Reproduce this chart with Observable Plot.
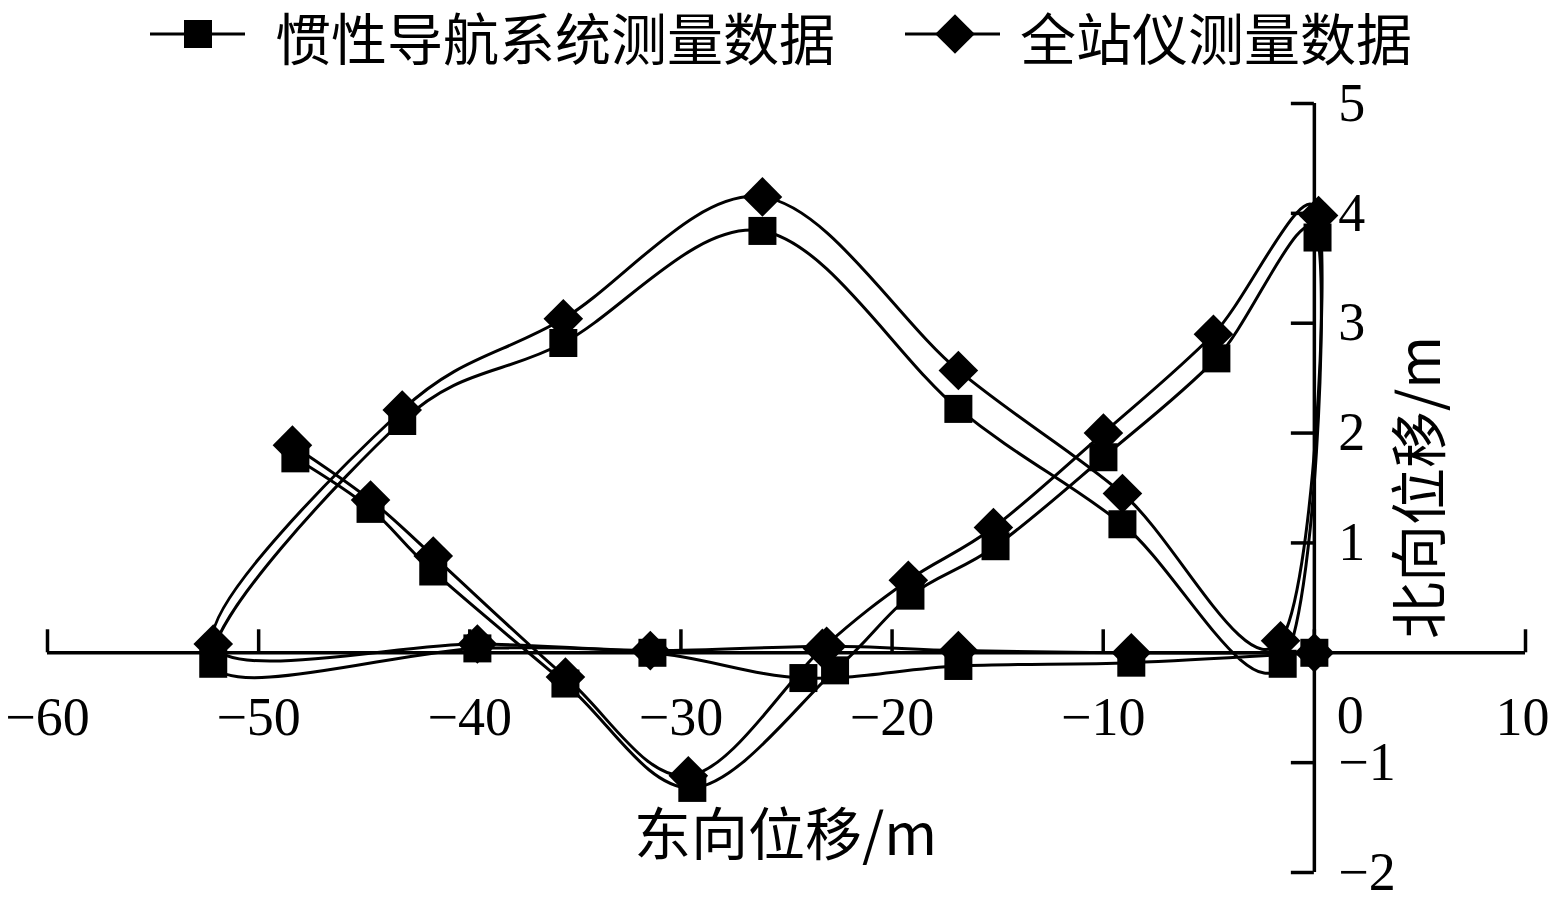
<!DOCTYPE html>
<html><head><meta charset="utf-8">
<script src="https://cdn.jsdelivr.net/npm/d3@7"></script>
<script src="https://cdn.jsdelivr.net/npm/@observablehq/plot@0.6"></script>
<style>
body{margin:0;background:#fff;}
#wrap{position:relative;width:1550px;height:907px;background:#fff;}
#legend{height:75px;width:1550px;}
#legend svg{overflow:visible;display:block;}
</style></head><body>
<div id="wrap"><div id="legend"></div><div id="chart"></div></div>
<script>
// ---- data ----
const seriesNames = ["惯性导航系统测量数据", "全站仪测量数据"];
// 惯性导航系统 (squares)
const insX = [0, -8.67, -16.86, -24.2, -31.35, -39.64, -52.15, -43.2, -35.57, -26.14, -16.86, -9.09, -1.5, 0.15, -4.64, -9.99, -15.1, -19.13, -22.7, -29.46, -35.47, -41.73, -44.7, -48.26];
const insY = [0, -0.09, -0.12, -0.23, 0.0, 0.04, -0.1, 2.11, 2.82, 3.84, 2.22, 1.17, -0.1, 3.78, 2.68, 1.78, 0.97, 0.52, -0.16, -1.23, -0.28, 0.74, 1.31, 1.77];
// 全站仪 (diamonds)
const tsX = [0, -8.67, -16.86, -23.1, -31.45, -39.64, -52.15, -43.2, -35.57, -26.14, -16.86, -9.09, -1.6, 0.2, -4.78, -9.99, -15.2, -19.23, -23.3, -29.65, -35.47, -41.73, -44.7, -48.4];
const tsY = [0, 0.0, 0.02, 0.06, 0.02, 0.08, 0.08, 2.21, 3.04, 4.15, 2.57, 1.45, 0.11, 3.98, 2.9, 2.0, 1.14, 0.66, 0.04, -1.12, -0.22, 0.88, 1.39, 1.89];
const xTicks = [-60, -50, -40, -30, -20, -10, 0, 10];
const yTicks = [-2, -1, 0, 1, 2, 3, 4, 5];
const xTitle = "东向位移/m";
const yTitle = "北向位移/m";

// ---- build ----
const ins = insX.map((x, i) => ({x, y: insY[i]}));
const ts = tsX.map((x, i) => ({x, y: tsY[i]}));
const fmt = d => d < 0 ? "\u2212" + Math.abs(d) : String(d);
const numFont = "'Liberation Serif','Times New Roman','Noto Sans CJK SC',serif";
const cjkFont = "'Noto Sans CJK SC','Liberation Serif',sans-serif";

// legend
const lg = d3.select("#legend").append("svg").attr("width", 1550).attr("height", 75);
const item1 = lg.append("g");
item1.append("line").attr("x1", 150).attr("x2", 245).attr("y1", 34).attr("y2", 34).attr("stroke", "black").attr("stroke-width", 3);
item1.append("rect").attr("x", 184).attr("y", 20).attr("width", 28).attr("height", 28).attr("fill", "black");
item1.append("text").attr("x", 275).attr("y", 35).attr("dominant-baseline", "central")
  .attr("font-family", cjkFont).attr("font-size", 56).text(seriesNames[0]);
const item2 = lg.append("g");
item2.append("line").attr("x1", 905).attr("x2", 1000).attr("y1", 34).attr("y2", 34).attr("stroke", "black").attr("stroke-width", 3);
item2.append("rect").attr("x", -14).attr("y", -14).attr("width", 28).attr("height", 28).attr("fill", "black")
  .attr("transform", "translate(955,34) rotate(45)");
item2.append("text").attr("x", 1020).attr("y", 35).attr("dominant-baseline", "central")
  .attr("font-family", cjkFont).attr("font-size", 56).text(seriesNames[1]);

const W = 1550, H = 832, mL = 47, mR = 25, mT = 28, mB = 35;
const [x0, x1] = d3.extent(xTicks), [y0, y1] = d3.extent(yTicks);
const pxX = (W - mL - mR) / (x1 - x0);
const pxY = (H - mT - mB) / (y1 - y0);
const tickLen = 23;
const inner = xTicks.filter(d => d !== 0 && d !== x1);

const chart = Plot.plot({
  width: W, height: H,
  marginLeft: mL, marginRight: mR, marginTop: mT, marginBottom: mB,
  x: {domain: [x0, x1], axis: null},
  y: {domain: [y0, y1], axis: null},
  style: {fontFamily: numFont, fontSize: "54px", color: "black", background: "white", overflow: "visible"},
  marks: [
    // axes
    Plot.ruleY([0], {y: d => d, x1: () => x0, x2: () => x1, stroke: "black", strokeWidth: 3.5}),
    Plot.ruleX([0], {x: d => d, y1: () => y0, y2: () => y1, stroke: "black", strokeWidth: 3.5}),
    Plot.ruleX(xTicks, {x: d => d, y1: () => 0, y2: () => tickLen / pxY, stroke: "black", strokeWidth: 3.5}),
    Plot.ruleY(yTicks, {y: d => d, x1: () => -tickLen / pxX, x2: () => 0, stroke: "black", strokeWidth: 3.5}),
    Plot.text(inner, {x: d => d, y: () => 0, text: fmt, dy: 65, fill: "black"}),
    Plot.text([0], {x: d => d, y: () => 0, text: fmt, dy: 63, dx: 36, fill: "black"}),
    Plot.text([x1], {x: d => d, y: () => 0, text: fmt, dy: 65, dx: -3, fill: "black"}),
    Plot.text(yTicks.filter(d => d !== 0), {x: () => 0, y: d => d, text: fmt, textAnchor: "start", dx: 24, fill: "black"}),
    Plot.text([xTitle], {frameAnchor: "top-left", text: d => d, dx: 785 - mL, dy: 836 - 75 - mT, textAnchor: "middle", lineAnchor: "middle", fontFamily: cjkFont, fontSize: 57, fill: "black"}),
    Plot.text([yTitle], {frameAnchor: "top-left", text: d => d, dx: 1421 - mL, dy: 487 - 75 - mT, rotate: -90, textAnchor: "middle", lineAnchor: "middle", fontFamily: cjkFont, fontSize: 57, fill: "black"}),
    // series
    Plot.line(ins, {x: "x", y: "y", curve: "cardinal", stroke: "black", strokeWidth: 3}),
    Plot.line(ts, {x: "x", y: "y", curve: "cardinal", stroke: "black", strokeWidth: 3}),
    Plot.dot(ins, {x: "x", y: "y", symbol: "square", r: 15.8, fill: "black", stroke: "none"}),
    Plot.dot(ts, {x: "x", y: "y", symbol: "square", r: 15.8, rotate: 45, fill: "black", stroke: "none"})
  ]
});
document.getElementById("chart").appendChild(chart);
</script>
</body></html>
